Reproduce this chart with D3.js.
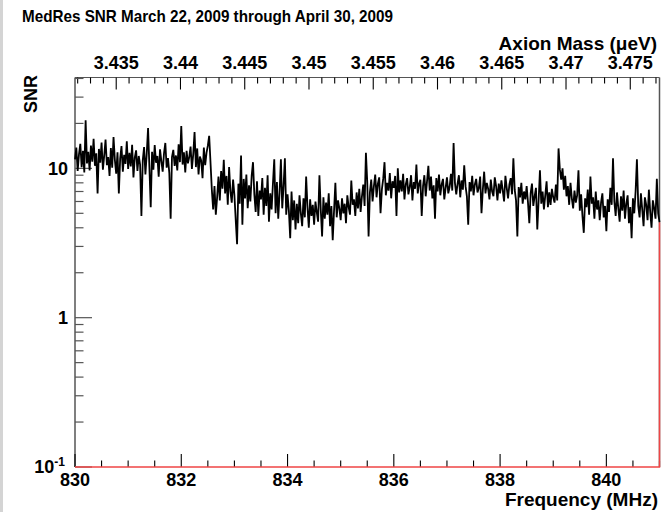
<!DOCTYPE html>
<html><head><meta charset="utf-8">
<script src="https://cdn.jsdelivr.net/npm/d3@7"></script>
<style>
body{margin:0;background:#fff}
text{font-family:"Liberation Sans",Arial,Helvetica,sans-serif;font-weight:bold;fill:#000}
</style>
</head><body>
<svg id="chart" width="661" height="512"></svg>
<script>
// SNR scan, frequency bins every 0.025 MHz starting at 830 MHz
const titleText = "MedRes SNR March 22, 2009 through April 30, 2009";
const freqStart = 830;
const freqStep = 0.025;
const snr = [
 11.5,13.8,9.6,12.4,14.6,10.2,13.1,9.4,21.0,10.8,12.9,9.7,14.2,11.1,15.8,10.4,12.6,6.8,13.5,10.9,
 14.9,9.8,12.2,15.6,10.5,11.9,8.9,13.7,10.1,16.2,11.4,9.2,12.8,6.8,11.6,14.1,9.5,12.3,10.7,15.2,
 9.9,12.7,10.3,14.4,8.7,11.8,13.2,9.6,12.1,10.6,4.8,11.3,13.9,9.1,12.5,18.6,10.2,5.5,12.9,9.8,
 14.3,10.9,12.1,8.8,13.4,11.2,9.5,12.6,14.8,10.1,11.7,9.3,4.6,11.9,13.3,10.4,12.2,9.7,14.5,11.0,
 19.2,10.6,12.8,9.4,13.1,10.8,11.9,14.0,9.9,12.4,17.5,10.2,13.6,9.1,12.0,11.3,8.6,13.8,10.5,12.7,
 14.2,16.5,11.0,7.2,5.3,7.6,4.9,6.4,8.8,6.1,9.6,7.3,11.4,6.8,8.9,5.7,10.2,7.0,5.9,8.4,
 6.6,4.5,3.1,7.9,5.8,12.2,4.2,8.5,6.3,9.1,5.4,7.7,6.0,8.9,11.0,6.7,5.1,8.2,4.8,7.1,
 6.2,8.6,4.9,7.4,5.6,9.0,4.4,6.8,5.3,7.9,11.5,5.0,8.1,4.6,6.9,11.5,5.4,7.6,11.7,4.9,
 6.7,5.2,3.4,7.0,4.5,6.1,3.9,5.8,4.3,6.6,5.0,4.1,6.3,4.7,8.8,5.5,4.0,6.2,4.8,5.7,
 4.2,6.0,5.1,4.4,9.0,5.3,3.5,6.4,4.6,5.9,4.9,6.8,4.1,5.6,3.3,5.2,8.0,4.7,6.1,5.4,
 4.5,6.3,5.0,5.8,4.3,6.6,5.5,4.9,8.3,5.7,6.2,4.8,6.9,5.4,7.3,5.1,6.5,7.8,5.6,12.7,
 8.1,3.5,6.9,8.4,6.0,7.6,9.1,6.4,7.9,8.7,5.0,7.2,8.5,11.0,6.6,8.0,7.1,9.3,6.3,8.2,
 7.4,8.9,4.8,10.0,6.9,8.3,7.0,9.2,6.2,7.8,8.6,6.7,7.5,9.0,6.1,8.1,7.3,10.6,6.8,7.9,
 8.4,4.8,7.6,9.0,6.5,8.2,10.4,7.1,8.8,6.3,7.7,4.6,8.6,7.0,9.1,6.6,7.8,8.5,6.2,7.4,
 8.7,6.8,7.5,9.2,7.1,14.8,8.0,6.7,7.9,9.0,6.4,8.3,7.2,10.5,7.6,6.5,4.2,8.1,7.0,8.9,
 6.6,7.8,8.5,6.9,7.4,8.8,5.0,7.2,9.5,6.8,8.0,7.3,6.2,8.4,7.0,6.5,8.7,7.6,6.1,7.9,
 6.8,8.3,7.1,6.0,8.9,7.4,6.3,7.8,8.6,6.7,11.7,7.2,6.1,3.5,7.5,6.4,8.0,5.8,7.0,6.2,
 7.6,5.9,4.3,6.8,7.9,5.6,6.5,7.4,3.9,6.1,9.7,5.8,7.0,5.3,6.6,8.2,5.5,6.9,5.7,7.3,
 6.4,5.9,7.8,6.1,13.6,9.8,8.4,10.0,7.2,8.9,6.5,7.6,5.7,8.0,6.3,5.4,7.1,5.9,6.6,9.7,
 5.2,6.7,4.8,3.7,6.3,5.5,7.2,4.9,8.8,5.8,6.4,4.6,7.0,5.3,6.1,4.5,5.9,6.8,4.7,5.6,
 3.8,6.2,5.1,7.4,5.7,11.7,6.0,4.8,6.9,5.4,4.4,6.5,5.2,7.1,4.6,5.8,6.6,4.3,5.5,3.4,
 6.3,5.0,7.0,11.5,5.6,4.7,6.8,5.3,4.1,6.4,5.7,4.5,7.2,5.1,4.0,6.1,5.4,4.6,8.5,5.0,
 4.36
];
const freqDomain = [830, 841];
const snrDomain = [0.1, 40.6];
const freqMajor = [830, 832, 834, 836, 838, 840];
const freqMinorStep = 0.5;
const massMajor = [3.435, 3.44, 3.445, 3.45, 3.455, 3.46, 3.465, 3.47, 3.475];
const massMinorStep = 0.001;
const snrMajor = [0.1, 1, 10];
const ueVPerMHz = 0.00413469;   // axion mass (µeV) per MHz of photon frequency

const svg = d3.select("#chart");
const L = 75, R = 659.5, T = 77.5, B = 467;

// light grey strip on the canvas' left edge
svg.append("rect").attr("x", 0).attr("y", 0).attr("width", 3).attr("height", 512).attr("fill", "#d4d4d4");

const x = d3.scaleLinear().domain(freqDomain).range([L, R]);
const xm = d3.scaleLinear().domain(freqDomain.map(f => f * ueVPerMHz)).range([L, R]);
const y = d3.scaleLog().domain(snrDomain).range([B, T]);

const data = snr.map((v, i) => ({f: freqStart + i * freqStep, v}));

// frame
const frameColor = "#555";
svg.append("line").attr("x1", L).attr("x2", L).attr("y1", T).attr("y2", B).attr("stroke", frameColor).attr("stroke-width", 1.5);
svg.append("line").attr("x1", L).attr("x2", R).attr("y1", T).attr("y2", T).attr("stroke", frameColor).attr("stroke-width", 1.2);
svg.append("line").attr("x1", R).attr("x2", R).attr("y1", T).attr("y2", B).attr("stroke", frameColor).attr("stroke-width", 1.5);

// bottom axis: major + minor ticks inward
const fMinor = d3.range(freqDomain[0], freqDomain[1] + 1e-9, freqMinorStep).filter(f => !freqMajor.includes(f));
const gB = svg.append("g").attr("transform", `translate(0,${B})`);
gB.selectAll("line.maj").data(freqMajor).join("line")
  .attr("x1", d => x(d)).attr("x2", d => x(d)).attr("y1", 0).attr("y2", -13)
  .attr("stroke", "#000").attr("stroke-width", 1.1);
gB.selectAll("line.min").data(fMinor).join("line")
  .attr("x1", d => x(d)).attr("x2", d => x(d)).attr("y1", 0).attr("y2", -6.5)
  .attr("stroke", "#000").attr("stroke-width", 1.1);
gB.selectAll("text").data(freqMajor).join("text")
  .attr("x", d => x(d)).attr("y", 19).attr("text-anchor", "middle")
  .attr("font-size", 18).text(d => d);
svg.append("text").attr("x", 658).attr("y", 506).attr("text-anchor", "end")
  .attr("font-size", 19).text("Frequency (MHz)");

// top axis in axion mass
const mLo = freqDomain[0] * ueVPerMHz, mHi = freqDomain[1] * ueVPerMHz;
const mMinor = d3.range(Math.ceil(mLo / massMinorStep), Math.floor(mHi / massMinorStep) + 1)
  .map(k => k * massMinorStep)
  .filter(m => !massMajor.some(M => Math.abs(M - m) < 1e-7));
const gT = svg.append("g").attr("transform", `translate(0,${T})`);
gT.selectAll("line.maj").data(massMajor).join("line")
  .attr("x1", d => xm(d)).attr("x2", d => xm(d)).attr("y1", 0).attr("y2", 12)
  .attr("stroke", "#000").attr("stroke-width", 1.1);
gT.selectAll("line.min").data(mMinor).join("line")
  .attr("x1", d => xm(d)).attr("x2", d => xm(d)).attr("y1", 0).attr("y2", 6)
  .attr("stroke", "#000").attr("stroke-width", 1.1);
gT.selectAll("text").data(massMajor).join("text")
  .attr("x", d => xm(d)).attr("y", -8.5).attr("text-anchor", "middle")
  .attr("font-size", 18).text(d => d);
svg.append("text").attr("x", 657).attr("y", 50).attr("text-anchor", "end")
  .attr("font-size", 19).text("Axion Mass (\u03BCeV)");

// left log axis
const yMinor = [];
[0.1, 1, 10].forEach(dec => { for (let k = 2; k <= 9; k++) { const v = dec * k; if (v <= snrDomain[1]) yMinor.push(v); } });
const gL = svg.append("g").attr("transform", `translate(${L},0)`);
gL.selectAll("line.maj").data(snrMajor).join("line")
  .attr("x1", 0).attr("x2", 17).attr("y1", d => y(d)).attr("y2", d => y(d))
  .attr("stroke", "#555").attr("stroke-width", 1.2);
gL.selectAll("line.min").data(yMinor).join("line")
  .attr("x1", 0).attr("x2", 8.5).attr("y1", d => y(d)).attr("y2", d => y(d))
  .attr("stroke", "#555").attr("stroke-width", 1.2);
snrMajor.forEach(v => {
  const t = gL.append("text").attr("text-anchor", "end").attr("font-size", 18);
  if (v >= 1) {
    t.attr("x", -7).attr("y", y(v) + 6.5).text(v);
  } else {
    const e = Math.round(Math.log10(v));
    t.attr("x", -10).attr("y", y(v) + 6).text("10");
    t.append("tspan").attr("dy", -7).attr("font-size", 12).text(e);
  }
});
svg.append("text").attr("transform", `translate(37,94) rotate(-90)`).attr("text-anchor", "middle")
  .attr("font-size", 18).text("SNR");

// title
svg.append("text").attr("x", 22).attr("y", 21.5).attr("font-size", 16.3)
  .attr("textLength", 371).attr("lengthAdjust", "spacingAndGlyphs").text(titleText);

// zero-level trace along the bottom and closing edge on the right
const last = data[data.length - 1];
svg.append("path")
  .attr("d", `M${L},${B}L${x(freqDomain[1])},${B}L${x(freqDomain[1])},${y(last.v)}`)
  .attr("fill", "none").attr("stroke", "#f04545").attr("stroke-width", 1.5);

// SNR trace
const line = d3.line().x(d => x(d.f)).y(d => y(d.v));
svg.append("path").datum(data).attr("d", line)
  .attr("fill", "none").attr("stroke", "#000").attr("stroke-width", 1.8);
</script>
</body></html>
